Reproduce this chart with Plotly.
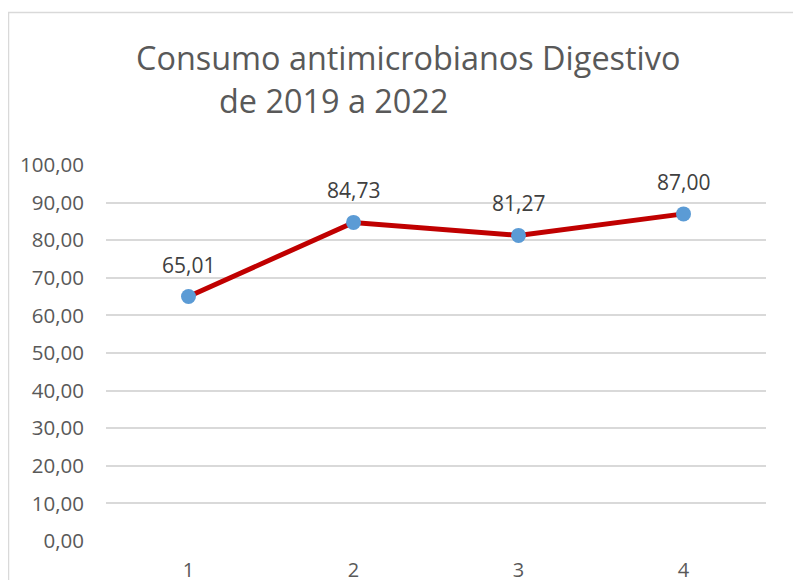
import plotly.graph_objects as go

categories = [1, 2, 3, 4]
values = [65.01, 84.73, 81.27, 87.00]
y_ticks = [0, 10, 20, 30, 40, 50, 60, 70, 80, 90, 100]
title_line1 = "Consumo antimicrobianos Digestivo"
title_line2 = "de 2019 a 2022"

OFF = 8  # page body margin offset
W, H = 801, 580
L, T = 106 - OFF, 165 - OFF
pw, ph = 660, 541 - 165
R = W - L - pw
B = H - T - ph

def px_x(x):
    return (x - OFF - L) / pw

def px_y(y):
    return (T + ph - (y - OFF)) / ph

FONT = "Open Sans"
fig = go.Figure()
fig.add_trace(go.Scatter(
    x=categories, y=values,
    mode="lines+markers",
    line=dict(color="#C00000", width=5),
    marker=dict(color="#5B9BD5", size=15),
    cliponaxis=False,
    hoverinfo="skip",
))

label_annotations = [
    dict(x=c, y=v, xref="x", yref="y", text=f"{v:.2f}".replace(".", ","),
         showarrow=False, xanchor="center", yanchor="middle", yshift=32,
         font=dict(family=FONT, size=21, color="#404040"))
    for c, v in zip(categories, values)
]

fig.update_layout(
    width=W, height=H,
    margin=dict(l=L, r=R, t=T, b=B, autoexpand=False),
    paper_bgcolor="white", plot_bgcolor="white",
    separators=",.",
    showlegend=False,
    font=dict(family=FONT, color="#595959"),
    xaxis=dict(
        range=[0.5, 4.5], tickvals=categories, ticktext=[str(c) for c in categories],
        showgrid=False, zeroline=False, showline=False, ticks="",
        tickfont=dict(family=FONT, size=20, color="#595959"),
        ticklabelstandoff=15, automargin=False, fixedrange=True,
    ),
    yaxis=dict(
        range=[0, 100], tickvals=y_ticks, tickformat=".2f",
        showgrid=True, gridcolor="#D9D9D9", gridwidth=2,
        zeroline=False, showline=False, ticks="",
        tickfont=dict(family=FONT, size=20.5, color="#595959"),
        ticklabelstandoff=21, automargin=False, fixedrange=True,
    ),
    shapes=[dict(
        type="rect", xref="paper", yref="paper",
        x0=px_x(8.5), x1=px_x(W + 40), y0=px_y(H + 40), y1=px_y(12.5),
        line=dict(color="#D9D9D9", width=1.5), fillcolor="rgba(0,0,0,0)", layer="below",
    )],
    annotations=[
        dict(text=title_line1, xref="paper", yref="paper", x=px_x(408), y=px_y(57),
             xanchor="center", yanchor="middle", showarrow=False,
             font=dict(family=FONT, size=32.4, color="#595959")),
        dict(text=title_line2, xref="paper", yref="paper", x=px_x(217), y=px_y(100),
             xanchor="left", yanchor="middle", showarrow=False,
             font=dict(family=FONT, size=32.4, color="#595959")),
    ] + label_annotations,
)

fig.write_html("out.html")
